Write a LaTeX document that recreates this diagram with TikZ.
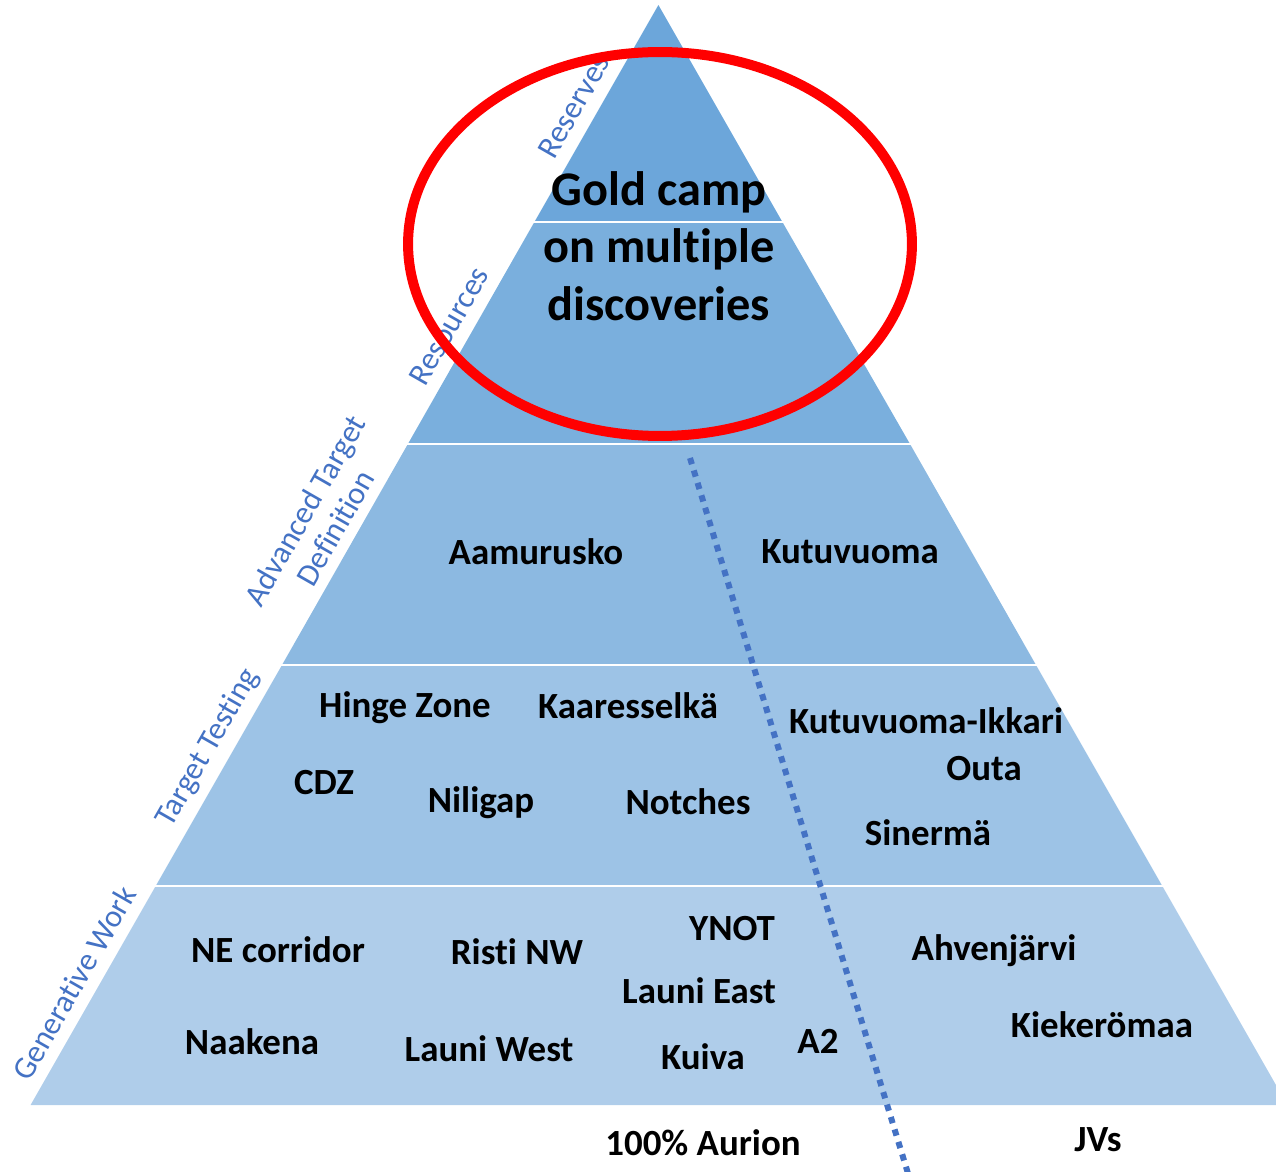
\documentclass[tikz,border=0pt]{standalone}
\usepackage{fontspec}
\setmainfont{Carlito}[Ligatures=NoCommon]
\usepackage{tikz}
\definecolor{bandA}{HTML}{6CA6DA}
\definecolor{bandB}{HTML}{7AAFDD}
\definecolor{bandC}{HTML}{8CB9E1}
\definecolor{bandD}{HTML}{9DC3E6}
\definecolor{bandE}{HTML}{AFCDEA}
\definecolor{stageblue}{HTML}{4472C4}
\tikzset{
  site/.style={font=\bfseries\fontsize{21}{24}\selectfont, inner sep=0pt},
  stage/.style={text=stageblue, rotate=60.2, align=center, inner sep=0pt, font=\fontsize{18}{20}\selectfont},
  gap/.style={white, line width=0.05cm}
}

\begin{document}
\begin{tikzpicture}[x=0.02cm, y=-0.02cm]
			%%%%% START %%%%%
			\clip (0, 0) rectangle (1276, 1172);
			
			% pyramid bands
			\fill[bandA] (658.4, 5) -- (782.4, 222) -- (534.4, 222) -- cycle;
			\fill[bandB] (534.4, 222) -- (782.4, 222) -- (910, 444) -- (407.9, 444) -- cycle;
			\fill[bandC] (407.9, 444) -- (910, 444) -- (1036, 665) -- (282, 665) -- cycle;
			\fill[bandD] (282, 665) -- (1036, 665) -- (1162.3, 886) -- (155.7, 886) -- cycle;
			\fill[bandE] (155.7, 886) -- (1162.3, 886) -- (1287.4, 1105) -- (30.6, 1105) -- cycle;
			
			\draw[gap] (520, 222) -- (800, 222);
			\draw[gap] (390, 444) -- (930, 444);
			\draw[gap] (260, 665) -- (1060, 665);
			\draw[gap] (130, 886) -- (1190, 886);
			
			% ownership split
			\coordinate (splittop) at (690, 458);
			\coordinate (splitbot) at (910, 1180);
			\draw[stageblue, line width=0.12cm, dash pattern=on 0.13cm off 0.13cm] (splittop) -- (splitbot);
			
			% stage names along the left side
			\node[stage] (reserves) at (574, 106) {Reserves};
			\node[stage] (resources) at (449, 326) {Resources};
			\node[stage] (advanced) at (320, 519) {Advanced Target\\Definition};
			\node[stage] (testing) at (208, 748) {Target Testing};
			\node[stage] (generative) at (74, 983) {Generative Work};
			
			% camp
			\node[font=\bfseries\fontsize{27.5}{32.6}\selectfont, align=center] (camp) at (659, 246) {Gold camp\\on multiple\\discoveries};
			
			% projects
			\node[site] (aamurusko) at (536, 552) {Aamurusko};
			\node[site] (kutuvuoma) at (850, 552) {Kutuvuoma};
			
			\node[site] (hinge) at (405, 708) {Hinge Zone};
			\node[site] (kaaresselka) at (628, 706) {Kaaresselkä};
			\node[site] (ikkari) at (926, 721) {Kutuvuoma-Ikkari};
			\node[site] (outa) at (984, 769) {Outa};
			\node[site] (cdz) at (324, 783) {CDZ};
			\node[site] (niligap) at (481, 803) {Niligap};
			\node[site] (notches) at (688, 802) {Notches};
			\node[site] (sinerma) at (928, 833) {Sinermä};
			
			\node[site] (necorridor) at (278, 950) {NE corridor};
			\node[site] (ristinw) at (517, 952) {Risti NW};
			\node[site] (ynot) at (732, 929) {YNOT};
			\node[site] (ahvenjarvi) at (994, 951) {Ahvenjärvi};
			\node[site] (launieast) at (699, 991) {Launi East};
			\node[site] (kiekeromaa) at (1102, 1025) {Kiekerömaa};
			\node[site] (naakena) at (252, 1042) {Naakena};
			\node[site] (launiwest) at (489, 1049) {Launi West};
			\node[site] (kuiva) at (703, 1057) {Kuiva};
			\node[site] (atwo) at (818, 1041) {A2};
			
			% ownership
			\node[site] (aurion) at (703, 1143) {100\% Aurion};
			\node[site] (jvs) at (1098, 1140) {JVs};
			
			% focus
			\draw[red, line width=0.2cm] (660, 244) ellipse [x radius=5.04cm, y radius=3.84cm];
			%%%%% END %%%%%
\end{tikzpicture}
\end{document}
